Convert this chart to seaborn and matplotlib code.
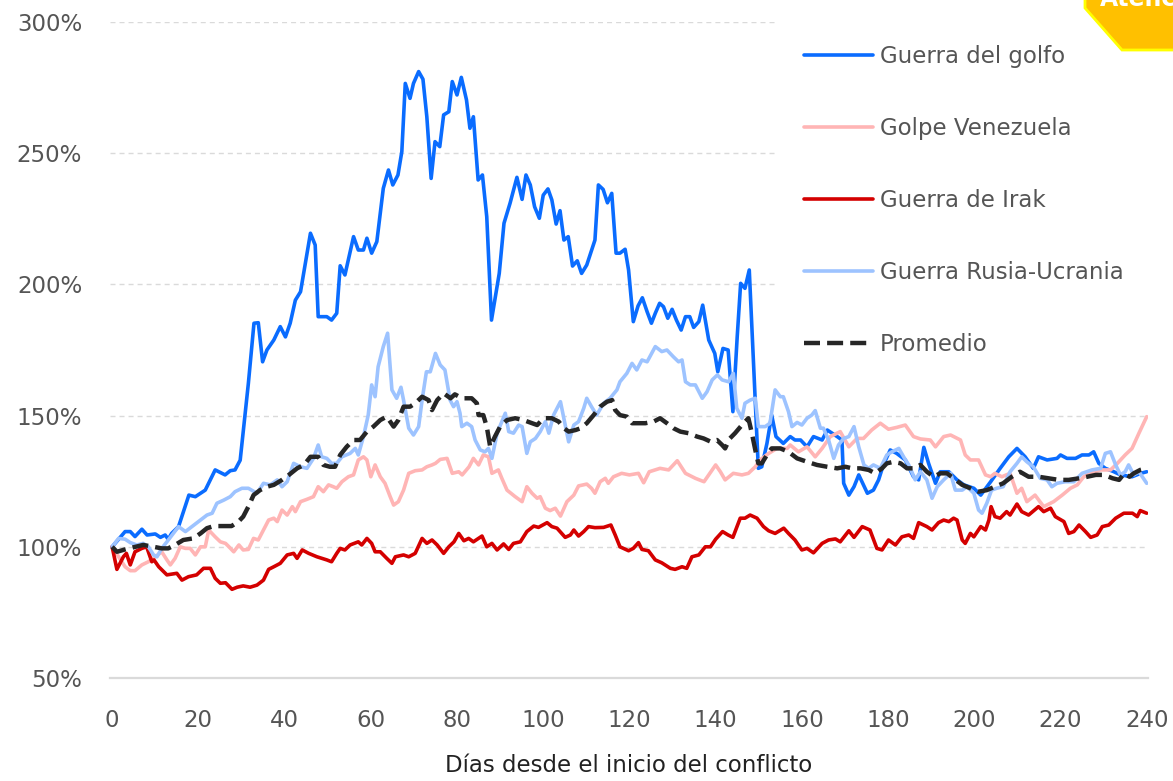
import matplotlib
matplotlib.use("Agg")
import matplotlib.pyplot as plt
from matplotlib.patches import Polygon
import seaborn as sns

# Rendimiento acumulado (%) por días desde el inicio de cada conflicto

gulf_days = [
    0.0, 3.0, 4.2, 5.3, 6.9, 8.1, 10.0, 11.2, 12.3, 13.0,
    13.8, 15.4, 17.8, 19.3, 21.6, 23.9, 26.2, 27.4, 28.5, 29.7,
    31.6, 32.9, 33.9, 34.9, 35.9, 37.5, 39.0, 40.2, 41.3, 42.5,
    43.7, 46.0, 47.1, 47.8, 49.8, 50.9, 52.1, 52.9, 54.0, 56.0,
    57.1, 58.3, 59.1, 60.2, 61.4, 62.9, 64.1, 65.1, 66.3, 67.2,
    68.0, 69.1, 69.9, 71.1, 72.1, 73.0, 74.0, 74.9, 76.0, 76.9,
    78.1, 78.9, 80.0, 81.0, 82.2, 83.0, 83.8, 84.9, 85.9, 86.9,
    88.0, 89.8, 90.9, 92.3, 93.9, 95.1, 96.0, 97.0, 98.0, 99.1,
    100.0, 101.1, 102.0, 103.0, 103.9, 104.8, 105.8, 106.8, 107.9, 108.9,
    110.1, 111.0, 112.0, 112.8, 113.9, 114.9, 115.9, 116.9, 117.8, 119.0,
    119.8, 120.9, 122.0, 123.0, 124.1, 125.1, 126.0, 127.0, 127.9, 128.9,
    129.9, 130.9, 132.0, 133.0, 134.0, 134.9, 136.1, 137.0, 138.4, 139.8,
    140.5, 141.7, 142.9, 144.0, 145.0, 145.8, 146.8, 147.8, 149.9, 150.7,
    151.9, 153.0, 154.0, 155.7, 157.3, 158.4, 159.7, 161.2, 162.7, 164.7,
    165.9, 168.2, 169.3, 169.7, 170.9, 172.1, 173.2, 175.2, 176.6, 177.8,
    178.9, 180.5, 182.0, 184.0, 185.9, 187.1, 188.3, 189.4, 191.0, 192.1,
    194.1, 196.0, 197.6, 199.9, 201.5, 203.8, 206.0, 208.0, 209.9, 211.8,
    213.7, 214.9, 216.9, 219.2, 220.0, 221.5, 223.5, 225.0, 226.6, 227.7,
    228.9, 230.4, 232.4, 233.9, 236.6, 238.6, 240.0,
]
gulf_values = [
    100.0, 105.8, 105.8, 103.9, 106.7, 104.5, 104.9, 103.6, 104.5, 102.9,
    105.1, 107.7, 119.7, 119.1, 121.6, 129.3, 127.4, 129.0, 129.3, 133.0,
    162.3, 185.2, 185.4, 170.5, 175.0, 178.8, 183.9, 180.0, 185.2, 194.0,
    197.2, 219.5, 215.0, 187.7, 187.7, 186.4, 189.0, 207.1, 203.6, 218.2,
    213.1, 213.1, 217.6, 211.9, 216.3, 236.6, 243.6, 237.9, 241.7, 250.6,
    276.6, 270.9, 276.6, 281.1, 278.2, 263.9, 240.4, 254.4, 252.5, 264.6,
    265.8, 277.3, 272.2, 278.9, 270.3, 259.5, 263.9, 239.8, 241.7, 225.8,
    186.4, 204.2, 223.3, 230.9, 240.8, 232.4, 241.7, 237.9, 229.6, 225.2,
    234.0, 236.4, 232.2, 223.0, 228.1, 216.9, 218.2, 207.0, 209.0, 204.2,
    207.4, 211.9, 216.9, 237.9, 236.2, 231.1, 234.7, 211.9, 211.9, 213.4,
    205.5, 185.8, 191.8, 194.9, 189.6, 185.2, 189.0, 192.8, 191.5, 187.1,
    190.5, 186.4, 182.6, 187.7, 187.7, 183.6, 185.8, 192.1, 178.8, 173.7,
    166.7, 175.6, 175.0, 151.5, 180.0, 200.4, 198.5, 205.5, 129.9, 130.5,
    139.4, 150.2, 142.0, 139.4, 142.0, 140.7, 140.7, 138.1, 142.0, 140.7,
    144.5, 142.0, 140.7, 124.2, 119.7, 122.9, 127.4, 120.4, 121.6, 125.5,
    131.2, 136.9, 135.6, 133.1, 126.7, 125.5, 137.9, 131.8, 124.2, 128.6,
    128.6, 125.5, 123.6, 122.3, 119.7, 124.8, 129.9, 134.3, 137.5, 134.3,
    129.9, 134.3, 133.1, 133.7, 135.0, 133.7, 133.7, 135.0, 135.0, 136.2,
    131.8, 129.9, 128.6, 127.4, 126.7, 128.0, 128.6,
]

venezuela_days = [
    0.0, 1.5, 3.0, 4.2, 5.3, 6.9, 8.4, 10.0, 11.5, 12.7,
    13.5, 14.6, 15.8, 17.0, 18.1, 19.3, 20.5, 21.6, 22.4, 23.9,
    25.1, 26.3, 27.1, 28.2, 29.4, 30.4, 31.6, 32.8, 33.9, 35.1,
    36.3, 37.5, 38.3, 39.4, 40.6, 41.8, 42.5, 43.7, 45.2, 46.7,
    47.8, 49.0, 50.2, 51.3, 52.1, 53.3, 54.8, 56.0, 57.1, 58.3,
    59.1, 60.0, 61.0, 62.2, 63.3, 64.5, 65.3, 66.4, 67.6, 68.8,
    70.3, 71.9, 73.0, 74.2, 75.0, 76.1, 77.7, 78.9, 80.4, 81.2,
    82.8, 83.8, 85.0, 86.1, 87.3, 88.1, 89.6, 90.4, 91.6, 93.5,
    95.1, 96.2, 97.4, 98.6, 99.3, 100.5, 101.6, 102.8, 104.0, 105.5,
    107.1, 108.2, 110.1, 111.2, 112.0, 113.2, 114.4, 115.1, 116.3, 118.2,
    120.0, 122.1, 123.3, 124.6, 127.1, 129.1, 131.1, 133.0, 135.3, 137.3,
    138.4, 140.0, 141.1, 142.2, 144.1, 146.1, 147.6, 149.2, 150.3, 152.3,
    154.2, 156.6, 157.3, 159.2, 161.2, 163.1, 164.7, 166.6, 168.9, 170.9,
    172.8, 174.3, 176.2, 178.2, 180.1, 182.0, 184.0, 185.9, 187.5, 189.8,
    191.0, 192.9, 194.5, 196.8, 197.9, 199.1, 201.0, 202.6, 203.8, 204.8,
    206.4, 208.3, 209.9, 211.0, 212.2, 214.1, 216.1, 218.4, 220.4, 222.3,
    223.9, 225.4, 227.0, 229.3, 231.6, 233.2, 235.0, 236.6, 238.2, 240.0,
]
venezuela_values = [
    100.0, 96.2, 92.4, 90.9, 90.9, 93.1, 94.3, 96.2, 98.1, 95.0,
    93.1, 95.6, 100.0, 99.4, 99.4, 96.9, 100.0, 100.0, 106.4, 103.8,
    101.9, 101.3, 100.0, 98.1, 100.7, 98.8, 99.0, 103.2, 102.6, 106.4,
    110.2, 110.9, 109.6, 114.0, 112.1, 115.3, 113.4, 117.2, 118.1, 119.1,
    122.9, 121.0, 123.6, 122.9, 122.3, 124.8, 126.7, 127.4, 133.1, 134.3,
    133.1, 126.7, 131.2, 126.7, 124.2, 119.1, 115.9, 117.2, 121.6, 128.0,
    129.0, 129.3, 130.5, 131.2, 131.8, 133.3, 133.7, 128.0, 128.6, 127.4,
    130.5, 133.7, 131.2, 135.0, 134.3, 128.0, 129.3, 126.1, 121.6, 119.1,
    117.2, 122.9, 120.4, 118.5, 119.1, 114.7, 113.8, 114.7, 111.7, 117.2,
    119.7, 123.2, 123.9, 122.3, 120.4, 124.8, 126.1, 124.2, 126.7, 128.0,
    127.4, 128.0, 124.4, 128.6, 129.9, 129.3, 132.8, 128.0, 126.1, 124.8,
    127.4, 131.2, 128.6, 125.5, 128.0, 127.4, 128.0, 130.5, 133.1, 135.6,
    137.5, 137.5, 138.8, 136.2, 138.1, 134.3, 137.5, 142.0, 143.9, 138.1,
    141.3, 141.3, 144.5, 147.1, 144.8, 145.5, 146.4, 142.0, 141.1, 140.7,
    138.1, 142.0, 142.6, 140.7, 135.0, 133.1, 133.1, 127.4, 126.7, 128.0,
    126.7, 128.0, 120.4, 122.3, 117.2, 119.7, 115.3, 117.2, 119.7, 122.3,
    123.6, 126.7, 128.0, 129.3, 129.3, 131.8, 135.0, 137.5, 143.3, 149.6,
]

irak_days = [
    0.0, 1.1, 2.6, 3.3, 4.2, 5.3, 6.9, 8.0, 9.2, 9.7,
    10.8, 12.7, 15.0, 16.2, 17.7, 19.6, 21.2, 22.8, 23.9, 25.1,
    26.3, 27.8, 29.0, 30.4, 32.0, 33.6, 35.1, 36.3, 37.5, 39.0,
    40.6, 42.1, 42.9, 44.1, 45.6, 47.5, 49.8, 50.9, 52.1, 52.9,
    54.0, 55.2, 57.1, 57.9, 59.1, 60.2, 61.0, 62.2, 63.7, 64.9,
    65.7, 67.6, 68.8, 70.3, 71.9, 73.0, 74.2, 75.4, 76.9, 78.1,
    79.3, 80.4, 81.6, 82.7, 83.8, 85.8, 86.9, 88.1, 89.3, 90.8,
    92.0, 93.1, 94.7, 96.2, 97.8, 98.9, 100.9, 102.0, 103.2, 105.1,
    106.3, 107.1, 108.2, 109.4, 110.5, 112.0, 114.0, 115.7, 116.7, 117.8,
    119.8, 120.9, 122.1, 122.9, 124.4, 126.0, 127.5, 129.5, 130.6, 132.2,
    133.3, 134.5, 136.1, 137.6, 138.8, 140.0, 141.6, 142.9, 144.0, 145.7,
    146.8, 148.0, 149.6, 151.1, 152.3, 153.8, 155.8, 156.9, 158.4, 160.0,
    161.2, 162.7, 164.7, 166.2, 167.8, 168.9, 170.9, 172.1, 174.0, 175.8,
    177.4, 178.6, 180.1, 181.7, 183.2, 184.8, 185.9, 187.1, 189.0, 190.2,
    191.7, 192.9, 194.1, 195.2, 196.0, 197.2, 197.9, 199.1, 199.9, 201.5,
    202.6, 203.4, 203.9, 204.8, 206.0, 207.5, 208.3, 209.9, 211.0, 212.6,
    214.9, 216.1, 217.7, 218.8, 220.8, 221.9, 223.1, 224.3, 225.8, 227.0,
    228.5, 229.7, 231.2, 232.8, 234.7, 236.7, 237.8, 238.5, 240.0,
]
irak_values = [
    100.0, 91.4, 96.2, 97.5, 93.1, 98.1, 99.4, 100.0, 94.3, 95.0,
    92.4, 89.3, 89.9, 87.3, 88.6, 89.3, 91.8, 91.8, 88.0, 86.1,
    86.3, 83.8, 84.6, 85.1, 84.6, 85.4, 87.3, 91.4, 92.4, 93.7,
    96.9, 97.5, 95.6, 98.8, 97.5, 96.2, 95.0, 94.3, 97.5, 99.4,
    98.8, 100.7, 101.9, 100.7, 103.2, 101.3, 98.1, 98.1, 95.6, 93.7,
    96.2, 96.9, 96.2, 97.5, 103.2, 101.3, 102.6, 100.7, 97.5, 100.0,
    101.9, 105.1, 102.3, 103.2, 101.9, 104.1, 100.0, 101.3, 98.8, 101.1,
    99.0, 101.3, 101.9, 105.8, 107.9, 107.4, 109.2, 107.7, 107.1, 103.6,
    104.5, 106.4, 104.1, 105.8, 107.7, 107.3, 107.4, 108.3, 104.5, 100.0,
    98.5, 99.4, 101.6, 99.0, 98.5, 95.0, 93.9, 91.8, 91.4, 92.4,
    91.8, 96.2, 96.9, 100.0, 100.0, 102.9, 105.8, 104.5, 103.6, 110.9,
    110.9, 112.1, 110.9, 107.7, 106.1, 105.1, 107.1, 105.1, 102.6, 98.8,
    99.4, 97.7, 101.3, 102.6, 103.0, 101.9, 106.1, 103.6, 107.7, 106.4,
    99.4, 98.8, 102.6, 100.7, 103.8, 104.5, 103.2, 109.2, 107.7, 106.4,
    109.2, 110.2, 109.6, 110.9, 110.2, 102.6, 101.3, 105.1, 103.8, 107.7,
    106.4, 110.2, 115.3, 111.5, 110.9, 113.4, 112.1, 116.3, 113.4, 112.1,
    115.3, 113.4, 114.7, 111.5, 109.6, 105.1, 105.8, 108.3, 105.8, 103.6,
    104.5, 107.7, 108.3, 110.9, 112.8, 112.8, 111.5, 113.8, 112.8,
]

rusia_days = [
    0.0, 1.5, 3.0, 4.2, 5.7, 7.2, 8.4, 9.6, 10.4, 11.5,
    12.7, 14.2, 15.4, 17.0, 18.5, 20.5, 22.0, 23.2, 24.3, 25.9,
    27.4, 28.5, 30.1, 31.6, 33.6, 35.1, 36.7, 38.3, 39.4, 40.6,
    42.1, 43.7, 45.2, 46.7, 47.8, 48.6, 49.8, 50.9, 52.1, 53.3,
    55.2, 56.4, 57.1, 58.3, 59.4, 60.2, 61.0, 61.7, 62.9, 63.9,
    64.9, 66.0, 67.0, 67.6, 68.8, 69.9, 71.1, 71.9, 72.9, 73.8,
    75.0, 76.1, 77.2, 78.4, 79.2, 80.0, 80.7, 81.1, 82.3, 83.4,
    84.2, 85.4, 86.5, 87.3, 88.1, 89.3, 90.4, 91.2, 92.0, 93.1,
    94.3, 95.1, 96.2, 97.0, 98.2, 99.3, 100.5, 101.3, 102.4, 104.0,
    105.1, 105.9, 107.1, 108.2, 109.4, 110.1, 111.2, 112.4, 114.0, 115.5,
    117.1, 117.8, 119.4, 120.6, 121.7, 122.9, 124.1, 126.0, 127.5, 128.7,
    130.2, 131.4, 132.2, 133.0, 134.1, 135.3, 136.9, 138.0, 139.2, 140.4,
    141.5, 143.0, 144.1, 144.9, 146.1, 146.8, 148.0, 149.2, 149.9, 151.5,
    152.6, 153.8, 155.0, 155.7, 156.9, 157.7, 158.9, 160.0, 161.2, 162.3,
    163.1, 164.3, 165.0, 166.2, 167.4, 168.5, 169.7, 170.9, 172.1, 173.2,
    174.4, 175.5, 176.6, 178.2, 179.7, 180.9, 182.5, 183.6, 184.8, 186.3,
    187.5, 189.0, 190.2, 191.4, 192.9, 194.5, 195.6, 197.2, 198.3, 199.9,
    201.0, 201.8, 202.9, 204.0, 205.2, 206.7, 208.3, 209.9, 211.0, 212.2,
    213.7, 215.3, 216.9, 218.0, 219.2, 221.1, 223.1, 225.0, 227.3, 229.3,
    230.4, 231.6, 232.8, 233.9, 235.0, 235.8, 237.0, 238.2, 240.0,
]
rusia_values = [
    100.0, 103.2, 102.9, 101.6, 100.7, 101.3, 100.0, 96.9, 96.2, 99.4,
    101.9, 105.1, 107.7, 105.8, 107.7, 110.2, 112.1, 112.8, 116.6, 117.8,
    119.1, 121.0, 122.3, 122.3, 120.4, 124.2, 123.6, 125.5, 122.9, 124.8,
    131.8, 130.5, 129.9, 133.7, 138.8, 134.3, 133.7, 131.8, 131.8, 134.3,
    135.6, 137.5, 135.0, 142.0, 150.2, 161.7, 157.2, 168.6, 176.3, 181.4,
    159.8, 156.6, 160.8, 155.9, 145.2, 142.6, 145.8, 155.9, 166.7, 166.7,
    173.7, 169.3, 167.4, 155.9, 153.4, 155.3, 150.9, 145.8, 147.1, 145.8,
    140.7, 136.9, 136.2, 137.5, 133.7, 143.3, 147.7, 150.9, 143.9, 143.3,
    146.4, 145.8, 135.6, 140.0, 141.3, 143.9, 147.7, 143.3, 150.2, 155.3,
    146.4, 140.0, 146.4, 147.7, 152.8, 156.6, 153.4, 150.2, 154.7, 156.6,
    159.8, 162.9, 166.1, 169.9, 167.4, 171.2, 170.5, 176.3, 174.4, 175.0,
    172.4, 170.5, 171.2, 162.9, 161.7, 161.7, 156.6, 159.1, 163.6, 165.5,
    163.6, 162.9, 166.1, 152.8, 149.0, 154.7, 155.9, 156.6, 145.8, 145.8,
    147.1, 159.8, 157.2, 157.2, 151.5, 145.8, 147.4, 146.4, 149.0, 150.2,
    151.9, 145.2, 145.2, 140.7, 133.7, 138.8, 141.3, 142.0, 145.8, 138.1,
    131.2, 129.9, 131.2, 129.9, 135.0, 136.2, 137.5, 134.3, 131.2, 125.5,
    128.6, 125.5, 118.5, 122.9, 125.5, 128.0, 121.6, 121.6, 122.9, 120.4,
    114.0, 112.8, 116.6, 121.6, 122.3, 122.9, 128.6, 131.8, 134.3, 132.4,
    130.5, 126.1, 125.5, 122.9, 124.2, 124.8, 124.8, 128.0, 129.3, 129.9,
    135.6, 136.2, 131.2, 127.4, 128.6, 131.2, 127.4, 128.6, 124.2,
]

promedio_days = [
    0.0, 1.1, 3.0, 4.9, 7.2, 9.6, 11.5, 13.0, 14.6, 16.5,
    18.8, 20.5, 22.0, 23.6, 25.5, 27.7, 29.3, 30.4, 31.6, 32.8,
    34.3, 35.9, 37.5, 39.4, 41.0, 42.9, 44.5, 46.0, 47.8, 49.0,
    50.5, 51.7, 52.9, 54.4, 56.0, 57.5, 59.1, 60.6, 62.2, 63.7,
    65.3, 66.4, 67.6, 69.1, 70.3, 71.9, 73.4, 74.2, 75.4, 76.9,
    78.5, 79.5, 81.2, 83.4, 84.6, 85.0, 86.1, 86.9, 87.7, 88.8,
    90.0, 91.6, 93.5, 95.4, 97.4, 98.6, 100.1, 102.0, 103.6, 104.8,
    105.9, 107.5, 108.7, 110.1, 111.7, 113.2, 114.8, 116.0, 116.7, 117.8,
    119.4, 120.6, 122.1, 123.7, 125.6, 127.1, 128.7, 130.2, 131.8, 133.7,
    135.7, 137.2, 138.8, 140.3, 141.5, 142.2, 143.3, 144.5, 146.1, 147.6,
    148.4, 149.2, 149.9, 150.7, 151.9, 153.0, 155.0, 156.9, 158.9, 161.2,
    163.5, 165.9, 168.2, 170.1, 171.7, 173.6, 175.5, 177.0, 178.6, 179.7,
    181.3, 182.9, 184.4, 185.9, 187.5, 189.0, 190.6, 192.1, 193.7, 195.2,
    197.2, 199.1, 201.0, 202.9, 204.8, 206.7, 208.7, 210.6, 212.6, 214.9,
    217.2, 219.6, 221.9, 224.3, 226.2, 228.2, 230.1, 232.1, 233.6, 234.8,
    236.0, 237.0, 238.5, 240.0,
]
promedio_values = [
    100.0, 98.1, 99.0, 99.8, 100.7, 100.0, 99.4, 99.4, 100.7, 102.6,
    103.2, 105.1, 107.1, 107.9, 107.9, 107.9, 109.6, 111.5, 115.3, 119.7,
    121.6, 122.9, 123.6, 125.5, 127.4, 129.9, 131.2, 134.3, 134.3, 131.2,
    130.5, 130.5, 135.0, 138.1, 140.7, 140.7, 143.9, 145.8, 148.3, 149.6,
    145.8, 148.3, 153.4, 153.4, 154.7, 157.2, 155.9, 152.1, 155.9, 158.5,
    156.6, 158.1, 156.6, 156.6, 154.7, 150.2, 150.2, 145.8, 138.1, 142.0,
    145.8, 148.3, 149.0, 148.3, 147.1, 146.4, 149.0, 149.0, 147.7, 145.2,
    143.9, 144.5, 145.2, 147.1, 150.2, 153.4, 155.3, 155.9, 152.1, 150.2,
    149.6, 147.1, 147.1, 147.1, 147.7, 149.0, 147.1, 145.2, 143.9, 143.3,
    142.0, 141.3, 140.1, 140.7, 138.8, 137.5, 141.3, 143.3, 146.4, 149.0,
    143.3, 136.9, 131.8, 131.8, 135.0, 137.5, 137.5, 136.2, 133.7, 132.4,
    131.2, 130.5, 129.9, 130.5, 129.9, 129.9, 129.3, 128.0, 129.9, 131.8,
    132.4, 131.8, 129.9, 129.9, 131.2, 128.6, 126.7, 128.0, 128.0, 126.1,
    123.6, 122.3, 121.0, 121.6, 122.9, 124.2, 126.7, 128.6, 126.7, 126.7,
    126.1, 125.5, 125.5, 126.1, 126.7, 127.4, 127.4, 126.1, 125.5, 128.0,
    126.7, 128.0, 129.3, 129.9,
]

y_ticks = [50, 100, 150, 200, 250, 300]
x_ticks = [0, 20, 40, 60, 80, 100, 120, 140, 160, 180, 200, 220, 240]

series = [
    ("Guerra del golfo", gulf_days, gulf_values, "#0A6CFF"),
    ("Golpe Venezuela", venezuela_days, venezuela_values, "#FFB5B5"),
    ("Guerra de Irak", irak_days, irak_values, "#D40000"),
    ("Guerra Rusia-Ucrania", rusia_days, rusia_values, "#9DC3FF"),
]

sns.set_theme(style="white")
plt.rcParams["font.family"] = ["DejaVu Sans"]

TEXT_COLOR = "#555555"
GRID_COLOR = "#DADADA"
FONT_SIZE = 16.5

fig = plt.figure(figsize=(11.73, 7.81), dpi=100)
ax = fig.add_axes([110 / 1173, 1 - 678 / 781, 1038 / 1173, 656 / 781])

for label, days, values, color in series:
    sns.lineplot(
        x=days,
        y=values,
        ax=ax,
        color=color,
        linewidth=2.6,
        label=label,
        estimator=None,
        sort=False,
    )

sns.lineplot(
    x=promedio_days,
    y=promedio_values,
    ax=ax,
    color="#262626",
    linewidth=3.2,
    linestyle=(0, (3.6, 1.6)),
    label="Promedio",
    estimator=None,
    sort=False,
)

ax.set_xlim(-0.5, 240.3)
ax.set_ylim(50, 300)
ax.set_xticks(x_ticks)
ax.set_yticks(y_ticks)
ax.set_yticklabels([f"{v}%" for v in y_ticks])

for v in y_ticks[1:]:
    ax.axhline(v, color=GRID_COLOR, linewidth=1.0, linestyle=(0, (3.6, 2.9)), zorder=0)

for side in ["left", "right", "top"]:
    ax.spines[side].set_visible(False)
ax.spines["bottom"].set_color(GRID_COLOR)
ax.spines["bottom"].set_linewidth(1.6)

ax.tick_params(axis="both", length=0, labelsize=FONT_SIZE, labelcolor=TEXT_COLOR)
ax.tick_params(axis="y", pad=20)
ax.tick_params(axis="x", pad=22)

ax.set_xlabel(
    "Días desde el inicio del conflicto",
    fontsize=FONT_SIZE,
    color="#222222",
    labelpad=16,
)
ax.set_ylabel("")

legend = ax.legend(
    loc="upper left",
    bbox_to_anchor=(770 / 1173, 1 - 11 / 781),
    bbox_transform=fig.transFigure,
    fontsize=FONT_SIZE,
    handlelength=3.0,
    handletextpad=0.3,
    labelspacing=2.13,
    borderpad=1.2,
    borderaxespad=0.3,
    frameon=True,
    fancybox=False,
    framealpha=1.0,
)
legend.get_frame().set_facecolor("white")
legend.get_frame().set_edgecolor("white")
for text in legend.get_texts():
    text.set_color(TEXT_COLOR)

# etiqueta amarilla recortada en la esquina superior derecha
badge_px = [(1085, -3), (1085, 8), (1122, 50), (1176, 50), (1176, -3)]
badge = Polygon(
    [(x / 1173, 1 - y / 781) for x, y in badge_px],
    closed=True,
    transform=fig.transFigure,
    facecolor="#FFC000",
    edgecolor="#FFFF00",
    linewidth=2.0,
    zorder=10,
)
fig.patches.append(badge)
fig.text(
    1100 / 1173,
    1 - 6 / 781,
    "Atención",
    color="white",
    fontsize=17,
    fontweight="bold",
    va="baseline",
    ha="left",
    zorder=11,
)

fig.savefig("out.png", dpi=100)
